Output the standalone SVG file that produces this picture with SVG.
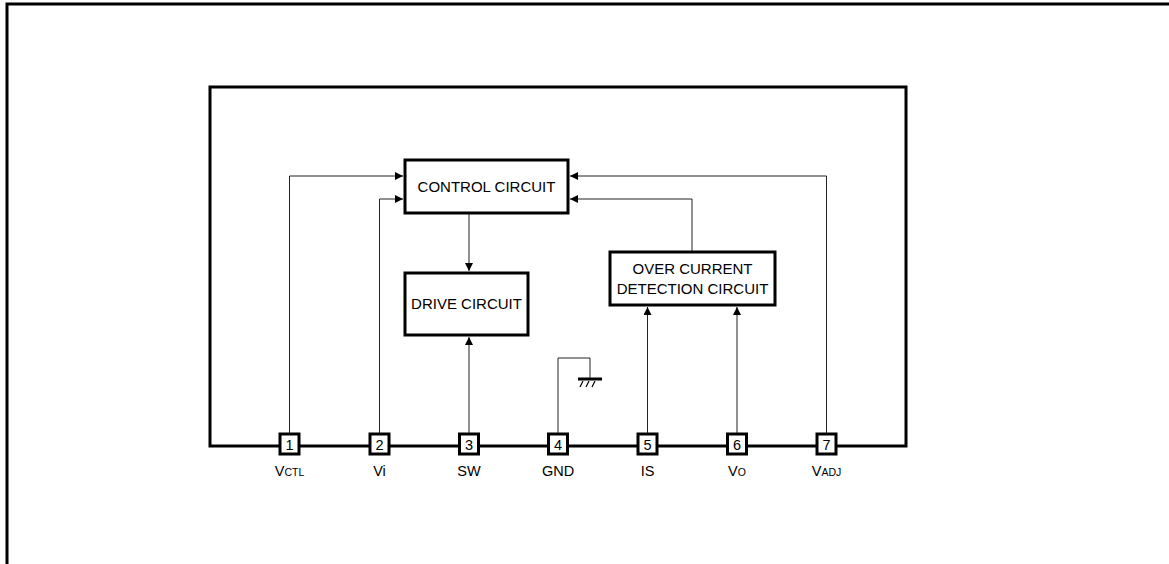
<svg xmlns="http://www.w3.org/2000/svg" width="1169" height="564" viewBox="0 0 1169 564">
<defs>
<marker id="ah" viewBox="0 0 10 10" refX="10" refY="5" markerWidth="8" markerHeight="8" markerUnits="userSpaceOnUse" orient="auto"><path d="M0,0 L10,5 L0,10 Z" fill="#000"/></marker>
<style>
.box{fill:#fff;stroke:#000;stroke-width:3}
.pin{fill:#fff;stroke:#000;stroke-width:3}
.c{fill:none;stroke:#222;stroke-width:1}
.t{font-family:"Liberation Sans",Arial,sans-serif;font-size:15px;fill:#000;text-anchor:middle}
.p{font-family:"Liberation Sans",Arial,sans-serif;font-size:14.5px;fill:#000;text-anchor:middle}
.s{font-size:10.5px}
</style>
</defs>
<rect width="1169" height="564" fill="#fff"/>
<path d="M7,564 V4 H1169" fill="none" stroke="#000" stroke-width="3"/>
<rect x="210" y="87" width="696" height="359" fill="none" stroke="#000" stroke-width="3"/>
<g id="connectors">
<path class="c" d="M289.5,434 V176 H403" marker-end="url(#ah)"/>
<path class="c" d="M379.5,434 V199 H403" marker-end="url(#ah)"/>
<path class="c" d="M826.5,434 V176 H570" marker-end="url(#ah)"/>
<path class="c" d="M692,252 V199 H570" marker-end="url(#ah)"/>
<path class="c" d="M469,213 V271" marker-end="url(#ah)"/>
<path class="c" d="M469,434 V337" marker-end="url(#ah)"/>
<path class="c" d="M647.5,434 V307" marker-end="url(#ah)"/>
<path class="c" d="M737,434 V307" marker-end="url(#ah)"/>
<path class="c" d="M558,434 V358 H590 V379"/>
<path d="M578,379 H602" stroke="#000" stroke-width="3"/>
<path d="M583,381 L580,387 M589,381 L586,387 M595,381 L592,387" stroke="#000" stroke-width="1.2"/>
</g>
<g id="control">
<rect class="box" x="405" y="160" width="163" height="53"/>
<text class="t" x="486.5" y="192">CONTROL CIRCUIT</text>
</g>
<g id="drive">
<rect class="box" x="405" y="273" width="123" height="62"/>
<text class="t" x="466.5" y="309">DRIVE CIRCUIT</text>
</g>
<g id="overcurrent">
<rect class="box" x="610" y="252" width="165" height="53"/>
<text class="t" x="692.5" y="274">OVER CURRENT</text>
<text class="t" x="692.5" y="294">DETECTION CIRCUIT</text>
</g>
<g id="pin1"><rect class="pin" x="280" y="434" width="19" height="20"/><text class="p" x="289.5" y="449.5">1</text><text class="p" x="289.5" y="476">V<tspan class="s">CTL</tspan></text></g>
<g id="pin2"><rect class="pin" x="370" y="434" width="19" height="20"/><text class="p" x="379.5" y="449.5">2</text><text class="p" x="379.5" y="476">Vi</text></g>
<g id="pin3"><rect class="pin" x="459.5" y="434" width="19" height="20"/><text class="p" x="469" y="449.5">3</text><text class="p" x="469" y="476">SW</text></g>
<g id="pin4"><rect class="pin" x="548.5" y="434" width="19" height="20"/><text class="p" x="558" y="449.5">4</text><text class="p" x="558" y="476">GND</text></g>
<g id="pin5"><rect class="pin" x="638" y="434" width="19" height="20"/><text class="p" x="647.5" y="449.5">5</text><text class="p" x="647.5" y="476">IS</text></g>
<g id="pin6"><rect class="pin" x="727.5" y="434" width="19" height="20"/><text class="p" x="737" y="449.5">6</text><text class="p" x="737" y="476">V<tspan class="s">O</tspan></text></g>
<g id="pin7"><rect class="pin" x="817" y="434" width="19" height="20"/><text class="p" x="826.5" y="449.5">7</text><text class="p" x="826.5" y="476">V<tspan class="s">ADJ</tspan></text></g>
</svg>
